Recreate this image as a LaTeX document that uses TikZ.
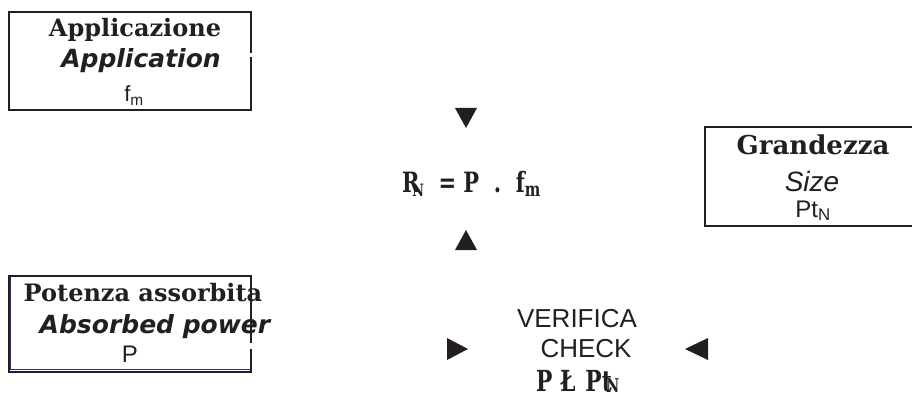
\documentclass[tikz,border=0pt]{standalone}
\usepackage{fontspec}
\usepackage{graphicx}
\setmainfont{Liberation Sans}
\newfontfamily\slabfont{DejaVu Serif}
\newfontfamily\verdfont{DejaVu Sans}
\definecolor{boxblue}{RGB}{38,48,130}
\definecolor{ink}{RGB}{35,31,32}
\newcommand{\narrow}[1]{\scalebox{0.75}[1]{#1}}
\tikzset{
  boxtitle/.style={anchor=base, inner sep=0pt, text=ink, font=\slabfont\bfseries\fontsize{24}{24}\selectfont},
  english/.style={anchor=base, inner sep=0pt, text=ink, font=\verdfont\bfseries\itshape\fontsize{25}{25}\selectfont},
  quantity/.style={anchor=base, inner sep=0pt, text=ink, font=\fontsize{24}{24}\selectfont},
  checktext/.style={anchor=base, inner sep=0pt, text=ink, font=\fontsize{26}{26}\selectfont},
  formula/.style={anchor=base west, inner sep=0pt, text=ink, font=\slabfont\bfseries},
  frame/.style={line width=1.6pt, ink},
  marker/.style={fill=ink},
}
\begin{document}
\begin{tikzpicture}[x=1pt,y=-1pt]
  \useasboundingbox (0,0) rectangle (912,398);
  % boxes
  \draw[frame] (251,57) -- (251,110) -- (9,110) -- (9,12) -- (251,12) -- (251,53);
  \draw[frame] (251,349) -- (251,372) -- (9,372) -- (9,276) -- (251,276) -- (251,343);
  \draw[boxblue, line width=1.4pt] (10.5,276.5) -- (10.5,369.5) -- (250,369.5);
  \draw[frame] (912,127) -- (705,127) -- (705,226) -- (912,226);
  % texts
  \draw
    (135,37) node[boxtitle] (appl) {Applicazione}
    (141,68) node[english] (applen) {Application}
    (134,102) node[quantity, font=\fontsize{22}{22}\selectfont] (fm) {f\textsubscript{m}}
    (143,301) node[boxtitle] (power) {Potenza assorbita}
    (155,333) node[english] (poweren) {Absorbed power}
    (130,362) node[quantity] (p) {P}
    (813,155) node[boxtitle, font=\slabfont\bfseries\fontsize{26}{26}\selectfont] (size) {Grandezza}
    (812,192) node[quantity, font=\itshape\fontsize{28}{28}\selectfont] (sizeen) {Size}
    (813,217) node[quantity] (ptn) {Pt\textsubscript{N}}
    (402,193) node[formula, font=\slabfont\bfseries\fontsize{28}{28}\selectfont] (pn)
      {\narrow{R\kern-0.35em\raisebox{-0.12em}{\fontsize{17}{17}\selectfont N}\ \ = P \ . \ f\textsubscript{m}}}
    (577,327) node[checktext] (verify) {VERIFICA}
    (586,357) node[checktext] (check) {CHECK}
    (536,391) node[formula, font=\slabfont\bfseries\fontsize{29}{29}\selectfont] (cond)
      {\narrow{P\hspace{0.35em}Ł\hspace{0.45em}Pt\kern-0.25em\raisebox{-0.05em}{\fontsize{19}{19}\selectfont N}}};
  % markers
  \fill[marker] (455,108) -- (477,108) -- (466,128) -- cycle;
  \fill[marker] (455,250) -- (477,250) -- (466,230) -- cycle;
  \fill[marker] (447,338) -- (447,360) -- (468,349) -- cycle;
  \fill[marker] (708,338) -- (708,360) -- (685,349) -- cycle;
\end{tikzpicture}
\end{document}
